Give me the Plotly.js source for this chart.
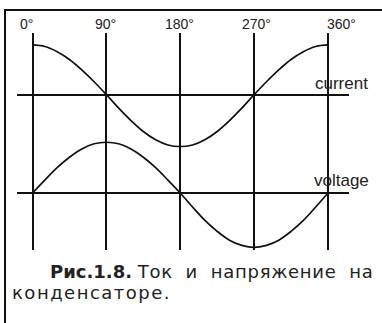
<!DOCTYPE html>
<html>
<head>
<meta charset="utf-8">
<script src="https://cdn.plot.ly/plotly-3.0.1.min.js"></script>
<style>
  html, body { margin: 0; padding: 0; background: #fff; }
  #chart { width: 382px; height: 323px; }
</style>
</head>
<body>
<div id="chart"></div>
<script>
// ---- data ----
const angles = [0, 15, 30, 45, 60, 75, 90, 105, 120, 135, 150, 165, 180,
                195, 210, 225, 240, 255, 270, 285, 300, 315, 330, 345, 360];
const current = [0.96, 0.93, 0.83, 0.68, 0.48, 0.25, 0, -0.26, -0.5, -0.71, -0.87, -0.97, -1.0,
                 -0.97, -0.87, -0.71, -0.5, -0.26, 0, 0.25, 0.48, 0.68, 0.83, 0.93, 0.96];
const voltage = [0, 0.25, 0.49, 0.69, 0.85, 0.95, 0.98, 0.95, 0.85, 0.69, 0.49, 0.25, 0,
                 -0.27, -0.53, -0.74, -0.91, -1.01, -1.05, -1.01, -0.91, -0.74, -0.53, -0.27, 0];
const tickAngles = [0, 90, 180, 270, 360];
const tickLabels = ['0°', '90°', '180°', '270°', '360°'];
const seriesNames = ['current', 'voltage'];
const captionBold = 'Рис.1.8.';
const captionRest = 'Ток и напряжение на';
const captionLine2 = 'конденсаторе.';

// ---- layout helpers (figure pixels -> paper fractions) ----
const W = 382, H = 323;
const px = p => p / W;
const py = p => 1 - p / H;
const ink = '#111';
const SANS = '"Liberation Sans", Arial, sans-serif';
const WIDE = '"DejaVu Sans", sans-serif';
const spaced = (s, ls) => '<span style="letter-spacing:' + ls + 'px">' + s + '</span>';
const NB = '\u00A0';

const traces = [
  { x: angles, y: current, yaxis: 'y', name: seriesNames[0], mode: 'lines',
    line: { color: ink, width: 1.7, shape: 'spline', smoothing: 1 }, hoverinfo: 'skip' },
  { x: angles, y: voltage, yaxis: 'y2', name: seriesNames[1], mode: 'lines',
    line: { color: ink, width: 1.7, shape: 'spline', smoothing: 1 }, hoverinfo: 'skip' }
];

const annotations = [];
tickAngles.forEach((a, i) => {
  const last = tickAngles.length - 1;
  annotations.push({
    xref: 'x', x: a, yref: 'paper', y: py(34),
    xanchor: i === 0 ? 'right' : (i === last ? 'left' : 'center'),
    xshift: i === 0 ? 2 : (i === last ? -3 : (i === 3 ? 2 : -1)),
    yanchor: 'bottom', showarrow: false, text: tickLabels[i],
    font: { family: SANS, size: 14, color: '#222' }
  });
});
annotations.push({
  xref: 'paper', x: px(313), yref: 'y', y: 0, xanchor: 'left', yanchor: 'bottom',
  yshift: 0, showarrow: false, text: seriesNames[0],
  font: { family: SANS, size: 17, color: '#222' }
});
annotations.push({
  xref: 'paper', x: px(312), yref: 'y2', y: 0, xanchor: 'left', yanchor: 'bottom',
  yshift: 1, showarrow: false, text: seriesNames[1],
  font: { family: SANS, size: 17, color: '#222' }
});
// first caption line is justified in the original: wider word gaps
annotations.push({
  xref: 'paper', x: px(48), yref: 'paper', y: py(271), xanchor: 'left', yanchor: 'middle',
  showarrow: false,
  text: '<b>' + captionBold + '</b>' + NB + spaced(captionRest.split(' ').join(NB + NB), 0.7),
  font: { family: WIDE, size: 18, color: '#222' }
});
annotations.push({
  xref: 'paper', x: px(10), yref: 'paper', y: py(292), xanchor: 'left', yanchor: 'middle',
  showarrow: false, text: spaced(captionLine2, 1.5),
  font: { family: WIDE, size: 18, color: '#222' }
});

const shapes = [
  { type: 'line', xref: 'paper', yref: 'paper', x0: px(5), x1: px(390), y0: py(10), y1: py(10),
    line: { color: ink, width: 2 } },
  { type: 'line', xref: 'paper', yref: 'paper', x0: px(5), x1: px(5), y0: py(9), y1: py(330),
    line: { color: ink, width: 2 } }
];

const pxPerDeg = (328 - 32.5) / 360;
const unit = 51.8;
const layout = {
  width: W, height: H,
  margin: { l: 0, r: 0, t: 0, b: 0, pad: 0 },
  paper_bgcolor: '#fff', plot_bgcolor: 'rgba(0,0,0,0)',
  showlegend: false,
  xaxis: {
    domain: [px(17), px(349)],
    range: [(17 - 32.5) / pxPerDeg, (349 - 32.5) / pxPerDeg],
    tickmode: 'array', tickvals: tickAngles, ticktext: tickLabels,
    showticklabels: false, ticks: '', showgrid: true, gridcolor: ink, gridwidth: 2,
    zeroline: false, showline: false, fixedrange: true
  },
  yaxis: {
    domain: [py(250), py(33)],
    range: [-(250 - 94.7) / unit, (94.7 - 33) / unit],
    showgrid: false, showticklabels: false, ticks: '',
    zeroline: true, zerolinecolor: ink, zerolinewidth: 2, showline: false, fixedrange: true
  },
  yaxis2: {
    overlaying: 'y',
    range: [-(250 - 193) / unit, (193 - 33) / unit],
    showgrid: false, showticklabels: false, ticks: '',
    zeroline: true, zerolinecolor: ink, zerolinewidth: 2, showline: false, fixedrange: true
  },
  annotations: annotations,
  shapes: shapes
};

Plotly.newPlot('chart', traces, layout, { staticPlot: true, displayModeBar: false });
</script>
</body>
</html>
